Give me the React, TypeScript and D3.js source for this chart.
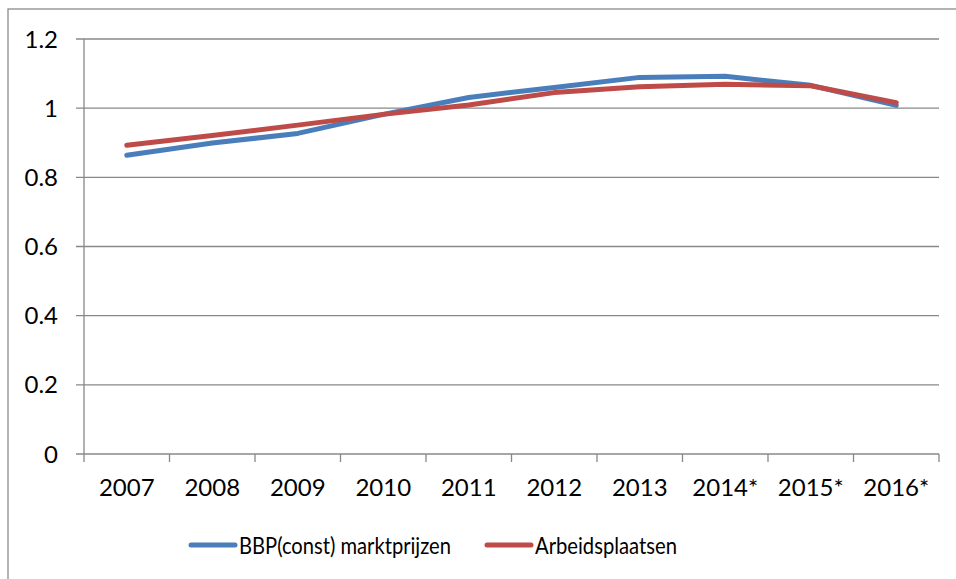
import React from "react";
import * as d3 from "d3";

const years = ["2007", "2008", "2009", "2010", "2011", "2012", "2013", "2014*", "2015*", "2016*"];
const bbp = [0.864, 0.899, 0.927, 0.982, 1.031, 1.06, 1.089, 1.092, 1.066, 1.008];
const arbeid = [0.893, 0.921, 0.951, 0.982, 1.009, 1.045, 1.062, 1.069, 1.065, 1.016];
const yTicks = [0, 0.2, 0.4, 0.6, 0.8, 1, 1.2];

const series = [
  { name: "BBP(const) marktprijzen", values: bbp, color: "#4A7EBB" },
  { name: "Arbeidsplaatsen", values: arbeid, color: "#BE4B48" },
];

const W = 956;
const H = 579;
const margin = { top: 39, right: 17, bottom: 125, left: 84 };
const font = "Lato, 'Open Sans', sans-serif";

export default function App() {
  const x = d3.scaleBand().domain(years).range([margin.left, W - margin.right]);
  const y = d3.scaleLinear().domain([0, 1.2]).range([H - margin.bottom, margin.top]);

  const line = d3
    .line<number>()
    .x((_, i) => (x(years[i]) as number) + x.bandwidth() / 2)
    .y((d) => y(d));

  const y0 = y(0);
  const legendX = [191, 487];
  const legendW = [212, 142];

  return (
    <svg
      width={W}
      height={H}
      style={{ position: "absolute", left: 0, top: 0, fontFamily: font }}
    >
      <rect x={0} y={0} width={W} height={H} fill="#fff" />
      {/* chart frame */}
      <rect x={8} y={9} width={W + 20} height={H + 20} fill="none" stroke="#8c8c8c" strokeWidth={1.3} />

      {/* gridlines + y labels */}
      {yTicks.map((t) => (
        <g key={t}>
          <line x1={margin.left - 8} x2={W - margin.right} y1={y(t)} y2={y(t)} stroke="#888" strokeWidth={1.3} />
          <text x={58} y={y(t)} dy="0.36em" textAnchor="end" fontSize={24} fill="#000">
            {t}
          </text>
        </g>
      ))}

      {/* y axis */}
      <line x1={margin.left} x2={margin.left} y1={margin.top} y2={y0} stroke="#888" strokeWidth={1.3} />

      {/* x ticks */}
      {years.concat(["end"]).map((yr, i) => {
        const xx = margin.left + i * x.step();
        return <line key={yr} x1={xx} x2={xx} y1={y0} y2={y0 + 8} stroke="#888" strokeWidth={1.3} />;
      })}
      {years.map((yr) => (
        <text
          key={yr}
          x={(x(yr) as number) + x.bandwidth() / 2}
          y={496}
          textAnchor="middle"
          fontSize={24}
          fill="#000"
        >
          {yr}
        </text>
      ))}

      {/* lines */}
      {series.map((s) => (
        <path
          key={s.name}
          d={line(s.values) || ""}
          fill="none"
          stroke={s.color}
          strokeWidth={5}
          strokeLinejoin="round"
          strokeLinecap="round"
        />
      ))}

      {/* legend */}
      {series.map((s, i) => (
        <g key={s.name} transform={`translate(${legendX[i]},545)`}>
          <line x1={0} x2={44} y1={0} y2={0} stroke={s.color} strokeWidth={5} strokeLinecap="round" />
          <text
            x={48}
            y={0}
            dy="0.36em"
            fontSize={24}
            fill="#000"
            textLength={legendW[i]}
            lengthAdjust="spacingAndGlyphs"
          >
            {s.name}
          </text>
        </g>
      ))}
    </svg>
  );
}
